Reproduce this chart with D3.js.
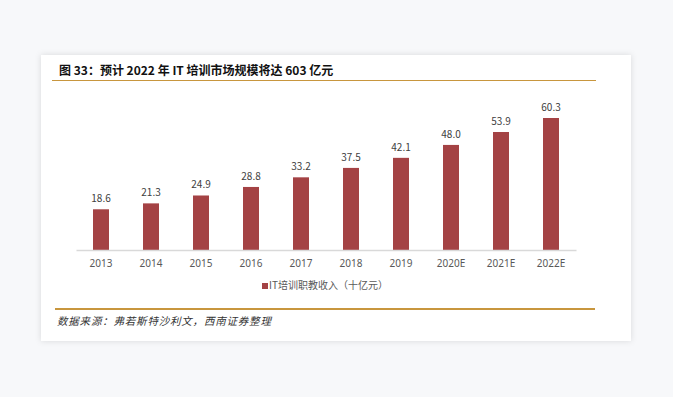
<!DOCTYPE html>
<html>
<head>
<meta charset="utf-8">
<script src="https://cdn.jsdelivr.net/npm/d3@7"></script>
<style>
  html, body { margin: 0; padding: 0; background: #f7f8fa; }
  svg { display: block; }
  text { font-family: "Noto Sans CJK SC", "Noto Sans", sans-serif; }
</style>
</head>
<body>
<div id="chart"></div>
<script>
// Chart data
const years = ["2013", "2014", "2015", "2016", "2017", "2018", "2019", "2020E", "2021E", "2022E"];
const revenue = [18.6, 21.3, 24.9, 28.8, 33.2, 37.5, 42.1, 48.0, 53.9, 60.3];
const seriesName = "IT培训职教收入（十亿元）";
const titleText = "图 33：预计 2022 年 IT 培训市场规模将达 603 亿元";
const sourceText = "数据来源：弗若斯特沙利文，西南证券整理";

const W = 673, H = 397;
const BAR_COLOR = "#a44244";
const GOLD = "#c8963e";

const svg = d3.select("#chart").append("svg")
  .attr("width", W)
  .attr("height", H);

// Card with soft shadow
const defs = svg.append("defs");
const shadow = defs.append("filter").attr("id", "card-shadow")
  .attr("x", "-5%").attr("y", "-5%").attr("width", "110%").attr("height", "110%");
shadow.append("feDropShadow")
  .attr("dx", 0).attr("dy", 0).attr("stdDeviation", 3)
  .attr("flood-color", "#000").attr("flood-opacity", 0.12);

svg.append("rect")
  .attr("x", 41).attr("y", 55)
  .attr("width", 590).attr("height", 286)
  .attr("fill", "#fff")
  .attr("filter", "url(#card-shadow)");

// Title and rules
svg.append("text")
  .attr("x", 59).attr("y", 75)
  .attr("font-size", 12)
  .attr("font-weight", "bold")
  .attr("fill", "#111")
  .text(titleText);

svg.append("line")
  .attr("x1", 52).attr("x2", 596)
  .attr("y1", 80.5).attr("y2", 80.5)
  .attr("stroke", GOLD).attr("stroke-width", 1.2);

svg.append("line")
  .attr("x1", 55).attr("x2", 595)
  .attr("y1", 309).attr("y2", 309)
  .attr("stroke", GOLD).attr("stroke-width", 2);

svg.append("text")
  .attr("x", 57).attr("y", 325)
  .attr("font-size", 10.5)
  .attr("letter-spacing", 0.8)
  .attr("font-style", "italic")
  .attr("fill", "#333")
  .text(sourceText);

// Plot area
const plot = { left: 76, right: 576, baseline: 250 };

const x = d3.scaleBand()
  .domain(years)
  .range([plot.left, plot.right])
  .paddingInner(0.68)
  .paddingOuter(0.34);

const y = d3.scaleLinear()
  .domain([0, 60.3])
  .range([plot.baseline, 118]);

const g = svg.append("g");

g.selectAll("rect.bar")
  .data(revenue)
  .join("rect")
  .attr("class", "bar")
  .attr("x", (d, i) => x(years[i]))
  .attr("width", x.bandwidth())
  .attr("y", (d) => y(d))
  .attr("height", (d) => y(0) - y(d))
  .attr("fill", BAR_COLOR);

g.selectAll("text.value")
  .data(revenue)
  .join("text")
  .attr("class", "value")
  .attr("x", (d, i) => x(years[i]) + x.bandwidth() / 2)
  .attr("y", (d) => y(d) - 7)
  .attr("text-anchor", "middle")
  .attr("font-size", 10)
  .attr("fill", "#404040")
  .text((d) => d.toFixed(1));

// X axis
const gx = svg.append("g")
  .attr("transform", `translate(0,${plot.baseline})`)
  .call(d3.axisBottom(x).tickSize(0).tickPadding(10));
gx.select(".domain").attr("stroke", "#d9d9d9").attr("stroke-width", 1.3);
gx.selectAll("text")
  .attr("font-size", 10)
  .attr("fill", "#595959")
  .style("font-family", "'Noto Sans', sans-serif");

// Legend
const legend = svg.append("g").attr("transform", "translate(262,289)");
legend.append("rect")
  .attr("x", 0).attr("y", -6)
  .attr("width", 6).attr("height", 6)
  .attr("fill", BAR_COLOR);
legend.append("text")
  .attr("x", 7).attr("y", 0)
  .attr("font-size", 10)
  .attr("fill", "#595959")
  .text(seriesName);
</script>
</body>
</html>
